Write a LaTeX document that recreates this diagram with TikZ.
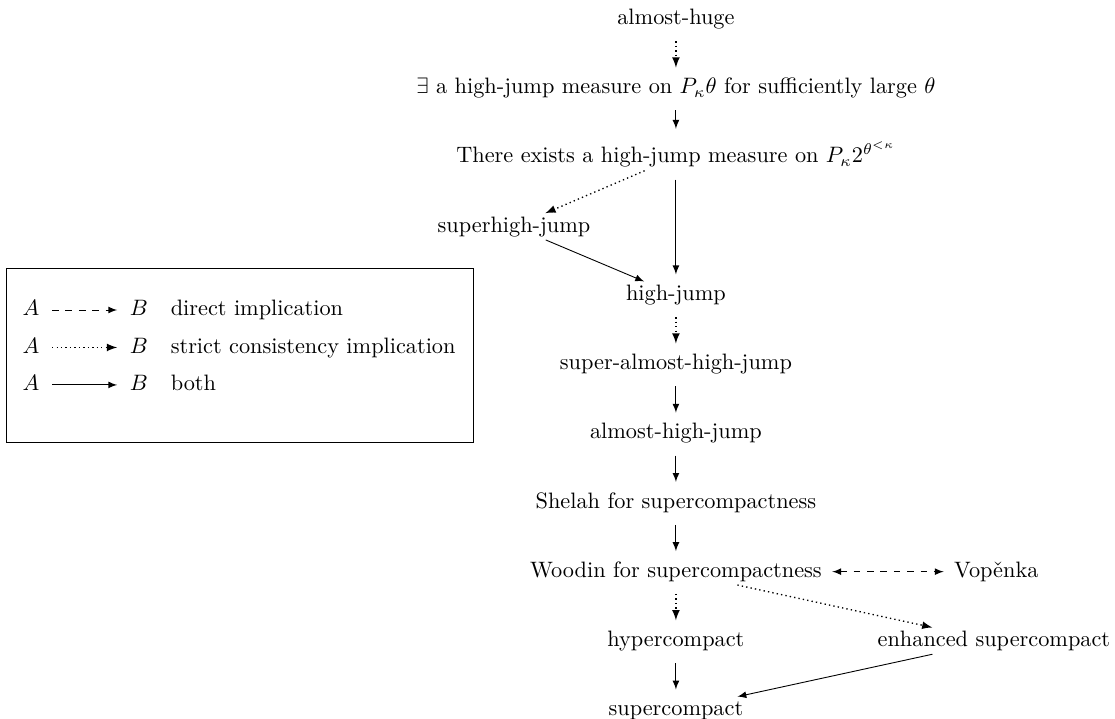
\documentclass[tikz,border=0pt]{standalone}
\usepackage{amssymb}
\usepackage{amsmath}
\usepackage{pgf,tikz}
\usetikzlibrary{positioning}

\tikzset{
  directimp/.style={->,dashed},
  strictimp/.style={->,line width=0.6pt,dash pattern=on 0.6pt off 1.4pt},
  bothimp/.style={->},
  vert/.style={shorten <=4pt, shorten >=3.2pt}
}

\begin{document}
\begin{tikzpicture}[%
      every node/.style={inner xsep=2pt, inner ysep=1.3pt, text height=7pt, text depth=2pt},
      node distance=19.03pt, >=latex
    ]
    \useasboundingbox (0,0) rectangle (500pt,-322.4pt);

    % main column
    \node [] (huge) at (303.1pt,-8.5pt) {almost-huge};
    \node [] (exists) [below=of huge] {$\exists$ a high-jump measure on $P_\kappa\theta$ for sufficiently large $\theta$};
    \node [] (measure) [below=of exists] {There exists a high-jump measure on $P_\kappa 2^{\theta^{<\kappa}}$};
    \node [] (superhigh) [below=of measure, xshift=-72.6pt] {superhigh-jump};
    \node [] (highjump) [below=49.66pt of measure] {high-jump};
    \node [] (superalmost) [below=of highjump] {super-almost-high-jump};
    \node [] (almosthigh) [below=of superalmost] {almost-high-jump};
    \node [] (shelah) [below=of almosthigh] {Shelah for supercompactness};
    \node [] (woodin) [below=of shelah] {Woodin for supercompactness};
    \node [] (vopenka) [right=55pt of woodin] {Vop\v{e}nka};
    \node [] (hyper) [below=of woodin] {hypercompact};
    \node [] (enhanced) [below=of woodin, xshift=142.6pt] {enhanced supercompact};
    \node [] (supercompact) [below=of hyper] {supercompact};

    \path
    (huge) edge[strictimp,vert] (exists)
    (exists) edge[bothimp,vert,shorten >=6.8pt] (measure)
    (measure) edge[strictimp] (superhigh)
    (measure) edge[bothimp,vert] (highjump)
    (superhigh) edge[bothimp] (highjump)
    (highjump) edge[strictimp,vert] (superalmost)
    (superalmost) edge[bothimp,vert] (almosthigh)
    (almosthigh) edge[bothimp,vert] (shelah)
    (shelah) edge[bothimp,vert] (woodin)
    (woodin) edge[directimp,<->,shorten <=2.5pt,shorten >=2.5pt] (vopenka)
    (woodin) edge[strictimp,vert] (hyper)
    (woodin) edge[strictimp] (enhanced)
    (hyper) edge[bothimp,vert] (supercompact)
    (enhanced) edge[bothimp] (supercompact)
    ;

    % legend
    \coordinate (boxnw) at (2.7pt,-120.2pt);
    \coordinate (boxse) at (212.1pt,-198.2pt);
    \draw (boxnw) rectangle (boxse);
    \node [] (la1) at (13.9pt,-139pt) {$A$};
    \node [] (lb1) [right=36.2pt of la1] {$B$};
    \node [] (lt1) [right=5.85pt of lb1] {direct implication};
    \node [] (la2) [below=4.8pt of la1] {$A$};
    \node [] (lb2) [right=36.2pt of la2] {$B$};
    \node [] (lt2) [right=5.85pt of lb2] {strict consistency implication};
    \node [] (la3) [below=4.8pt of la2] {$A$};
    \node [] (lb3) [right=36.2pt of la3] {$B$};
    \node [] (lt3) [right=5.85pt of lb3] {both};

    \path
    (la1) edge[directimp,shorten <=3.5pt,shorten >=3.5pt] (lb1)
    (la2) edge[strictimp,shorten <=3.5pt,shorten >=3.5pt] (lb2)
    (la3) edge[bothimp,shorten <=3.5pt,shorten >=3.5pt] (lb3)
    ;
\end{tikzpicture}
\end{document}
